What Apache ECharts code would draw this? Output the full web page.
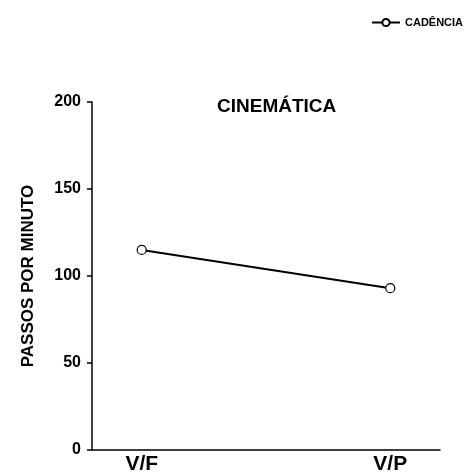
<!DOCTYPE html>
<html>
<head>
<meta charset="utf-8">
<script src="https://cdn.jsdelivr.net/npm/echarts@6/dist/echarts.min.js"></script>
<style>
html,body{margin:0;padding:0;background:#fff;}
#chart{width:465px;height:475px;}
</style>
</head>
<body>
<div id="chart"></div>
<script>
var categories = ['V/F', 'V/P'];
var cadencia = [115, 93];
var seriesName = 'CADÊNCIA';
var chartTitle = 'CINEMÁTICA';
var yName = 'PASSOS POR MINUTO';

var FONT = '"Liberation Sans", Arial, sans-serif';
var chart = echarts.init(document.getElementById('chart'), null, {renderer: 'canvas'});
var option = {
  backgroundColor: '#ffffff',
  animation: false,
  title: {
    text: chartTitle,
    left: 217,
    top: 97,
    padding: 0,
    textStyle: {fontFamily: FONT, fontSize: 19, fontWeight: 'bold', color: '#000'}
  },
  legend: {
    data: [seriesName],
    left: 371,
    top: 17,
    padding: 0,
    itemWidth: 28,
    itemHeight: 9,
    textStyle: {fontFamily: FONT, fontSize: 11, fontWeight: 'bold', color: '#000'}
  },
  grid: {left: 92, right: 25, top: 102, bottom: 25, containLabel: false},
  xAxis: {
    type: 'value',
    min: -0.2,
    max: 1.2,
    splitLine: {show: false},
    axisTick: {show: false},
    axisLine: {show: true, onZero: false, lineStyle: {color: '#000', width: 1.5}},
    axisLabel: {
      customValues: categories.map(function (c, i) { return i; }),
      formatter: function (v) { return categories[Math.round(v)] || ''; },
      margin: 4,
      fontFamily: FONT, fontSize: 21, fontWeight: 'bold', color: '#000'
    }
  },
  yAxis: {
    type: 'value',
    min: 0,
    max: 200,
    interval: 50,
    name: yName,
    nameLocation: 'middle',
    nameRotate: 90,
    nameGap: 55,
    nameTextStyle: {fontFamily: FONT, fontSize: 17, fontWeight: 'bold', color: '#000'},
    splitLine: {show: false},
    axisLine: {show: true, onZero: false, lineStyle: {color: '#000', width: 1.5}},
    axisTick: {show: true, inside: false, length: 5, lineStyle: {color: '#000', width: 1.5}},
    axisLabel: {margin: 11, fontFamily: FONT, fontSize: 16, fontWeight: 'bold', color: '#000'}
  },
  series: [{
    name: seriesName,
    type: 'line',
    data: cadencia.map(function (v, i) { return [i, v]; }),
    symbol: 'circle',
    symbolSize: 9,
    lineStyle: {color: '#000', width: 2},
    itemStyle: {color: '#fff', borderColor: '#000', borderWidth: 1.2}
  }]
};
chart.setOption(option);
</script>
</body>
</html>
